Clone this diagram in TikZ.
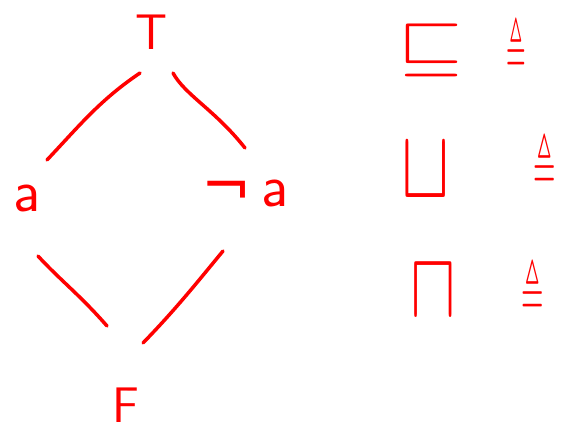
\documentclass[tikz,border=0pt]{standalone}
\usepackage{amssymb}
\usepackage{graphicx}
\usepackage{fontspec}
\newfontfamily\symf{DejaVu Sans}
\newcommand{\symsz}[1]{\fontsize{#1}{#1}\selectfont}
\begin{document}
\begin{tikzpicture}[x=1pt,y=-1pt,
  hand/.style={red,line width=3.5pt,line cap=round},
  lbl/.style={red,inner sep=0pt,font=\fontsize{50}{50}\selectfont\sffamily},
  sym/.style={red,inner sep=0pt}]
\useasboundingbox (0,0) rectangle (562,433);
\node[lbl] (T) at (152,32) {T};
\node[lbl,font=\fontsize{60}{60}\selectfont\sffamily] (a) at (27,198) {a};
\node[lbl,font=\fontsize{60}{60}\selectfont\sffamily] (na) at (245,193) {{\symf ¬}\,a};
\node[lbl] (F) at (126,405) {F};
\coordinate (t1) at (140,73); \coordinate (l1) at (47,160);
\coordinate (t2) at (173,73); \coordinate (r1) at (245,148);
\coordinate (l2) at (38,256); \coordinate (b1) at (107,326);
\coordinate (r2) at (223,251); \coordinate (b2) at (143,343);
\draw[hand] (t1) .. controls (100,100) and (80,125) .. (l1);
\draw[hand] (t2) .. controls (185,95) and (215,110) .. (r1);
\draw[hand] (l2) .. controls (60,280) and (80,295) .. (b1);
\draw[hand] (r2) .. controls (195,285) and (175,310) .. (b2);
\node[sym] (sq) at (431,50) {\symsz{20.74}\scalebox{4.0}[3.3]{$\sqsubseteq$}};
\node[sym] (d1) at (516,46) {\symsz{36}\scalebox{0.7}[1.8]{$\triangleq$}};
\node[sym] (cup) at (426,170) {\symsz{20.74}\scalebox{3.5}[4.7]{$\sqcup$}};
\node[sym] (d2) at (545,162) {\symsz{36}\scalebox{0.8}[1.8]{$\triangleq$}};
\node[sym] (cap) at (433,292) {\symsz{20.74}\scalebox{3.3}[4.5]{$\sqcap$}};
\node[sym] (d3) at (533,288) {\symsz{36}\scalebox{0.8}[1.8]{$\triangleq$}};
\end{tikzpicture}
\end{document}
